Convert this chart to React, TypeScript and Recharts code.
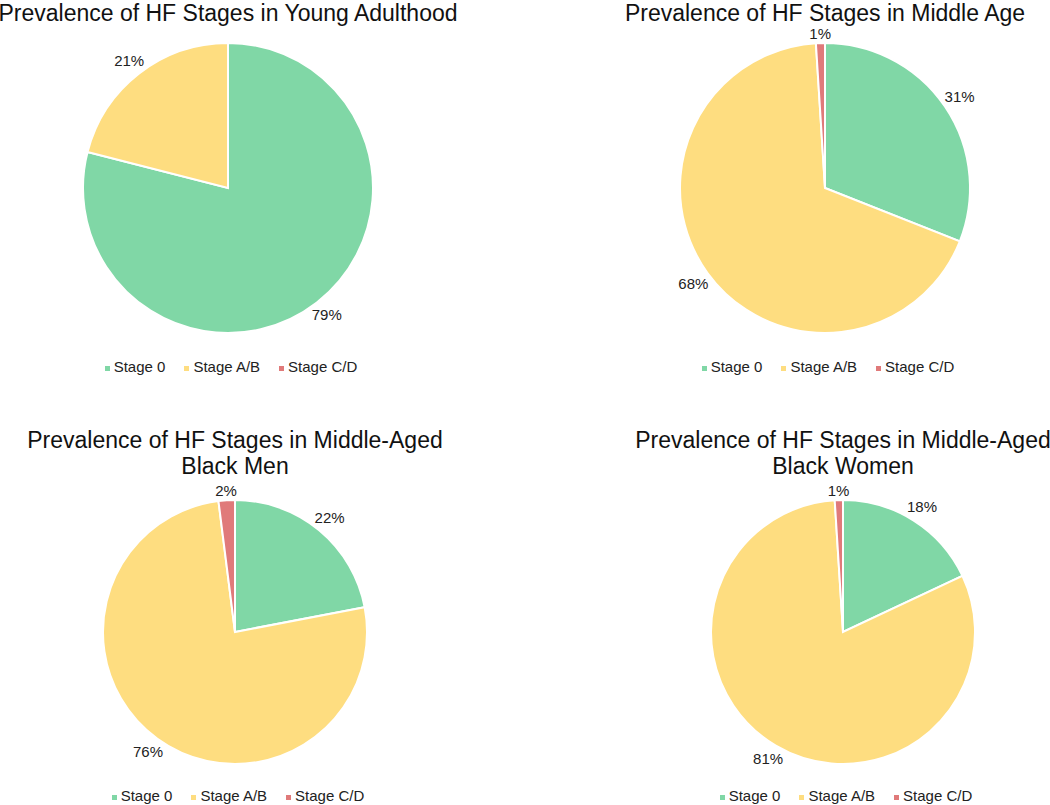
import React from 'react';
import { PieChart, Pie, Cell, Legend } from 'recharts';

const stages = ['Stage 0', 'Stage A/B', 'Stage C/D'];
const youngAdulthood = [79, 21, 0];
const middleAge = [31, 68, 1];
const middleAgedBlackMen = [22, 76, 2];
const middleAgedBlackWomen = [18, 81, 1];

const titleYoung = ['Prevalence of HF Stages in Young Adulthood'];
const titleMiddle = ['Prevalence of HF Stages in Middle Age'];
const titleMen = ['Prevalence of HF Stages in Middle-Aged', 'Black Men'];
const titleWomen = ['Prevalence of HF Stages in Middle-Aged', 'Black Women'];

const COLORS = ['#80d7a6', '#fedd80', '#e07a7a'];
const FONT = '"Liberation Sans", Arial, Helvetica, sans-serif';
const RAD = Math.PI / 180;

type Panel = {
  values: number[];
  title: string[];
  left: number;
  top: number;
  width: number;
  height: number;
  cx: number;
  cy: number;
  r: number;
  titleTop: number;
  titleLine: number;
  legendTop: number;
};

const panels: Panel[] = [
  { values: youngAdulthood, title: titleYoung, left: 0, top: 0, width: 525, height: 402, cx: 228, cy: 188, r: 145, titleTop: 1, titleLine: 24, legendTop: 357 },
  { values: middleAge, title: titleMiddle, left: 525, top: 0, width: 525, height: 402, cx: 300, cy: 188, r: 145, titleTop: 1, titleLine: 24, legendTop: 357 },
  { values: middleAgedBlackMen, title: titleMen, left: 0, top: 402, width: 525, height: 403, cx: 235, cy: 230, r: 132, titleTop: 25, titleLine: 26, legendTop: 384 },
  { values: middleAgedBlackWomen, title: titleWomen, left: 525, top: 402, width: 525, height: 403, cx: 318, cy: 230, r: 132, titleTop: 25, titleLine: 26, legendTop: 384 },
];

const renderLabel = (props: any) => {
  const { cx, cy, midAngle, outerRadius, value } = props;
  if (!value) return null;
  const text = `${value}%`;
  const c = Math.cos(-midAngle * RAD);
  const s = Math.sin(-midAngle * RAD);
  const hw = text.length * 4.6;
  const hh = 6;
  const dist = outerRadius + 3 + Math.abs(c) * hw + Math.abs(s) * hh;
  const x = cx + dist * c;
  const y = cy + dist * s;
  return (
    <text x={x} y={y + 5} textAnchor="middle" fill="#222" fontSize={15} fontFamily={FONT}>
      {text}
    </text>
  );
};

const renderLegend = (props: any) => {
  const payload = props.payload || [];
  return (
    <div style={{ display: 'flex', justifyContent: 'center', alignItems: 'center', height: 20, fontFamily: FONT, fontSize: 15, lineHeight: '20px', color: '#222' }}>
      {payload.map((entry: any, i: number) => (
        <div key={i} style={{ display: 'flex', alignItems: 'center', marginLeft: i === 0 ? 0 : 19 }}>
          <span style={{ display: 'inline-block', width: 5, height: 5, background: entry.color || COLORS[i], marginRight: 4, marginTop: 2 }} />
          <span>{entry.value}</span>
        </div>
      ))}
    </div>
  );
};

function PiePanel({ p }: { p: Panel }) {
  const data = stages.map((name, i) => ({ name, value: p.values[i] }));
  return (
    <div style={{ position: 'absolute', left: p.left, top: p.top, width: p.width, height: p.height }}>
      <div
        style={{
          position: 'absolute',
          left: p.cx - 300,
          width: 600,
          top: p.titleTop,
          textAlign: 'center',
          fontFamily: FONT,
          fontSize: 23,
          lineHeight: `${p.titleLine}px`,
          color: '#111',
          whiteSpace: 'nowrap',
          zIndex: 2,
        }}
      >
        {p.title.map((t, i) => (
          <div key={i}>{t}</div>
        ))}
      </div>
      <PieChart width={p.width} height={p.height} margin={{ top: 0, right: 0, bottom: 0, left: 0 }}>
        <Pie
          data={data}
          dataKey="value"
          nameKey="name"
          cx={p.cx}
          cy={p.cy}
          outerRadius={p.r}
          startAngle={90}
          endAngle={-270}
          stroke="#ffffff"
          strokeWidth={2}
          labelLine={false}
          label={renderLabel}
          isAnimationActive={false}
        >
          {data.map((d, i) => (
            <Cell key={d.name} fill={COLORS[i]} />
          ))}
        </Pie>
        <Legend
          content={renderLegend}
          wrapperStyle={{ position: 'absolute', top: p.legendTop, left: p.cx + 3 - 200, width: 400, height: 20 }}
        />
      </PieChart>
    </div>
  );
}

export default function App() {
  return (
    <div style={{ position: 'absolute', left: 0, top: 0, width: 1050, height: 805, background: '#fff', overflow: 'hidden' }}>
      {panels.map((p, i) => (
        <PiePanel key={i} p={p} />
      ))}
    </div>
  );
}
